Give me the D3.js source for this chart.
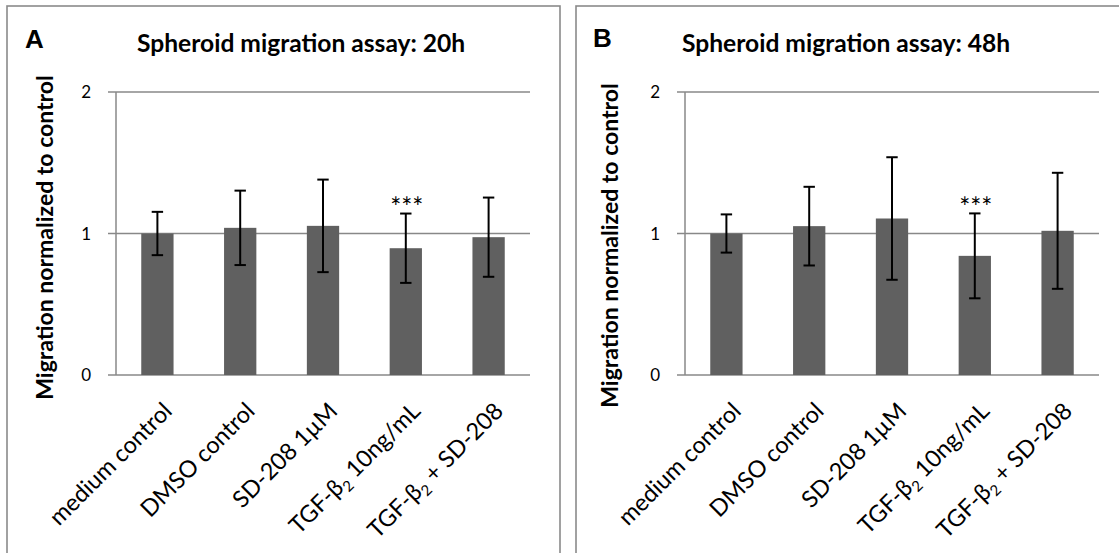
<!DOCTYPE html>
<html>
<head>
<meta charset="utf-8">
<script src="https://cdn.jsdelivr.net/npm/d3@7"></script>
<style>
  body { margin: 0; background: #ffffff; }
  text { font-family: Lato, "Noto Sans", "DejaVu Sans", sans-serif; fill: #000; }
</style>
</head>
<body>
<svg id="chart" width="1119" height="553"></svg>
<script>
// Treatment groups (x axis)
const categories = ["medium control", "DMSO control", "SD-208 1µM", "TGF-β₂ 10ng/mL", "TGF-β₂ + SD-208"];

// Panel A: 20 h migration, mean and error
const means20h = [1.00, 1.04, 1.054, 0.896, 0.974];
const errors20h = [0.153, 0.263, 0.327, 0.245, 0.28];

// Panel B: 48 h migration, mean and error
const means48h = [1.00, 1.052, 1.106, 0.842, 1.019];
const errors48h = [0.135, 0.278, 0.433, 0.30, 0.41];

// Significance markers per group
const significance = ["", "", "", "***", ""];

const yTicks = [0, 1, 2];
const yLabel = "Migration normalized to control";

const panels = [
  { letter: "A", title: "Spheroid migration assay: 20h", means: means20h, errors: errors20h,
    box: [7, 6, 553, 600], plot: [116, 530], letterX: 25, letterY: 48, titleX: 137,
    yLabelX: 53, yLabelY: 237.5, tickX: 91 },
  { letter: "B", title: "Spheroid migration assay: 48h", means: means48h, errors: errors48h,
    box: [576, 6, 553, 600], plot: [685, 1099], letterX: 593, letterY: 47, titleX: 682,
    yLabelX: 618, yLabelY: 245.5, tickX: 660 }
];

const svg = d3.select("#chart");
const plotTop = 92, plotBottom = 375;
const gridColor = "#888888";
const barColor = "#606060";

const y = d3.scaleLinear().domain([0, 2]).range([plotBottom, plotTop]);

panels.forEach(p => {
  const g = svg.append("g");

  // outer frame of the panel
  g.append("rect")
    .attr("x", p.box[0]).attr("y", p.box[1])
    .attr("width", p.box[2]).attr("height", p.box[3])
    .attr("fill", "none").attr("stroke", "#8a8a8a").attr("stroke-width", 1.6);

  const x = d3.scaleBand().domain(categories).range(p.plot)
    .paddingInner(0.61).paddingOuter(0.305);

  // horizontal gridlines with short ticks to the left of the axis
  g.selectAll(".grid").data(yTicks).join("line")
    .attr("x1", p.plot[0] - 8).attr("x2", p.plot[1])
    .attr("y1", d => y(d)).attr("y2", d => y(d))
    .attr("stroke", gridColor).attr("stroke-width", 1.5);

  // vertical axis
  g.append("line")
    .attr("x1", p.plot[0]).attr("x2", p.plot[0])
    .attr("y1", y(2)).attr("y2", y(0))
    .attr("stroke", gridColor).attr("stroke-width", 1.5);

  // tick labels
  g.selectAll(".tick").data(yTicks).join("text")
    .attr("x", p.tickX).attr("y", d => y(d))
    .attr("dy", "0.36em")
    .attr("text-anchor", "end")
    .style("font-size", "17px")
    .text(d => d);

  // bars
  g.selectAll(".bar").data(categories).join("rect")
    .attr("x", d => x(d))
    .attr("width", x.bandwidth())
    .attr("y", (d, i) => y(p.means[i]))
    .attr("height", (d, i) => y(0) - y(p.means[i]))
    .attr("fill", barColor);

  // error bars
  const cap = 5.7;
  categories.forEach((c, i) => {
    const cx = x(c) + x.bandwidth() / 2;
    const hi = y(p.means[i] + p.errors[i]);
    const lo = y(p.means[i] - p.errors[i]);
    g.append("line").attr("x1", cx).attr("x2", cx).attr("y1", hi).attr("y2", lo)
      .attr("stroke", "#000").attr("stroke-width", 2);
    [hi, lo].forEach(v => g.append("line")
      .attr("x1", cx - cap).attr("x2", cx + cap).attr("y1", v).attr("y2", v)
      .attr("stroke", "#000").attr("stroke-width", 2));
    if (significance[i]) {
      g.append("text")
        .attr("x", cx + 1).attr("y", hi + 3.5)
        .attr("text-anchor", "middle")
        .style("font-size", "26px")
        .text(significance[i]);
    }
  });

  // rotated category labels; "₂" drawn as a real subscript
  categories.forEach(c => {
    const cx = x(c) + x.bandwidth() / 2 + 16;
    const cy = plotBottom + 37.5;
    const t = g.append("text")
      .attr("x", cx).attr("y", cy)
      .attr("text-anchor", "end")
      .attr("transform", `rotate(-45,${cx},${cy})`)
      .style("font-size", "23.5px");
    const parts = c.split("₂");
    parts.forEach((part, k) => {
      if (k > 0) {
        t.append("tspan").attr("dy", 5).style("font-size", "15px").text("2");
        t.append("tspan").attr("dy", -5).text(part);
      } else {
        t.append("tspan").text(part);
      }
    });
  });

  // y axis title
  g.append("text")
    .attr("transform", `translate(${p.yLabelX},${p.yLabelY}) rotate(-90)`)
    .attr("text-anchor", "middle")
    .style("font-size", "23px").style("font-weight", "bold")
    .text(yLabel);

  // panel letter
  g.append("text")
    .attr("x", p.letterX).attr("y", p.letterY)
    .style("font-family", "'Liberation Sans', Arial, sans-serif")
    .style("font-size", "26px").style("font-weight", "bold")
    .text(p.letter);

  // chart title
  g.append("text")
    .attr("x", p.titleX).attr("y", 51.5)
    .style("font-size", "24.6px").style("font-weight", "bold")
    .text(p.title);
});
</script>
</body>
</html>
